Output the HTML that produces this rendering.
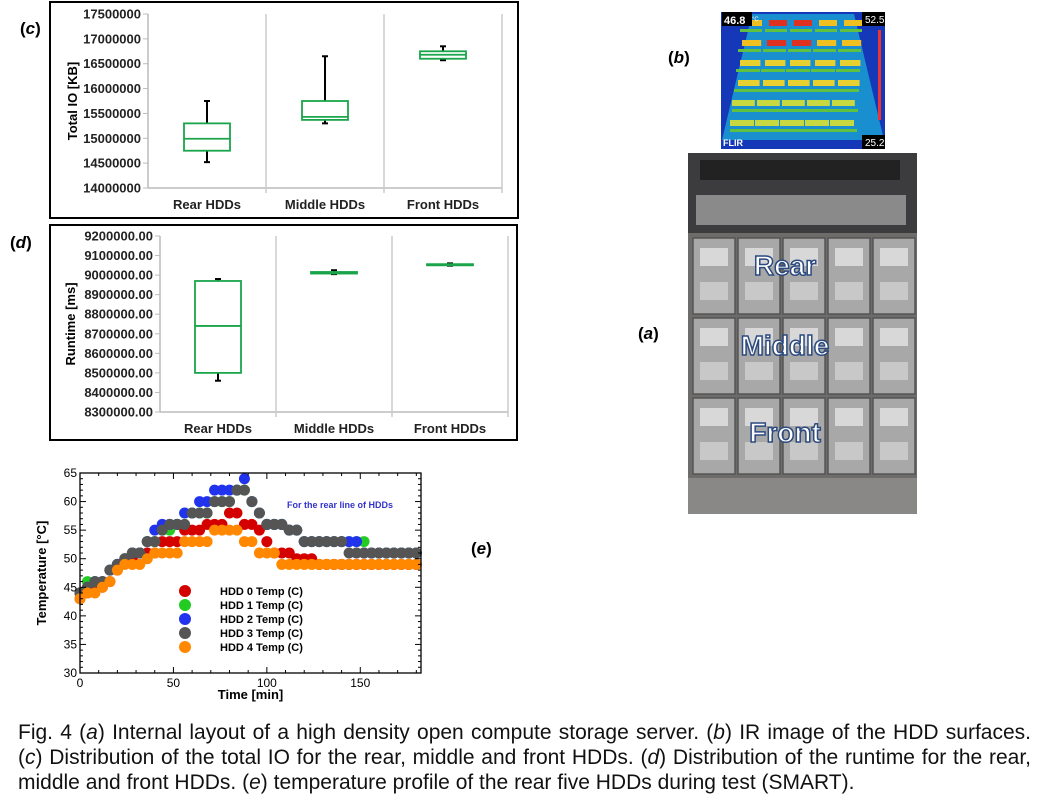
<!DOCTYPE html>
<html><head><meta charset="utf-8"><style>
body{margin:0;background:#fff;width:1048px;height:808px;overflow:hidden;font-family:"Liberation Sans",Arial,sans-serif}
svg{position:absolute;left:0;top:0}
#cap{position:absolute;left:18px;top:720px;width:1013px;font-size:21px;line-height:25px;color:#111}
#cap div{text-align:justify;text-align-last:justify;white-space:nowrap}
#cap div.last{text-align-last:left}
</style></head><body>
<svg id="fig" width="1048" height="808" xmlns="http://www.w3.org/2000/svg" font-family="Liberation Sans, Arial, sans-serif">
<g id="gc"></g>
<g id="gd"></g>
<g id="ge"></g>
<g id="photos"></g>
<text x="20" y="34" font-size="17" font-weight="bold">(<tspan font-style="italic">c</tspan>)</text>
<text x="10" y="248" font-size="17" font-weight="bold">(<tspan font-style="italic">d</tspan>)</text>
<text x="668" y="63" font-size="17" font-weight="bold">(<tspan font-style="italic">b</tspan>)</text>
<text x="638" y="339" font-size="17" font-weight="bold">(<tspan font-style="italic">a</tspan>)</text>
<text x="471" y="554" font-size="17" font-weight="bold">(<tspan font-style="italic">e</tspan>)</text>
</svg>
<div id="cap">
<div>Fig. 4 (<i>a</i>) Internal layout of a high density open compute storage server. (<i>b</i>) IR image of the HDD surfaces.</div>
<div>(<i>c</i>) Distribution of the total IO for the rear, middle and front HDDs. (<i>d</i>) Distribution of the runtime for the rear,</div>
<div class="last">middle and front HDDs. (<i>e</i>) temperature profile of the rear five HDDs during test (SMART).</div>
</div>
<script>
const NS='http://www.w3.org/2000/svg';
function mk(p,t,a,txt){const e=document.createElementNS(NS,t);for(const k in a)e.setAttribute(k,a[k]);if(txt!==undefined)e.textContent=txt;p.appendChild(e);return e;}

// ---- chart c data ----
const cCats=['Rear HDDs','Middle HDDs','Front HDDs'];
const cMin=[14520000,15300000,16570000];
const cQ1=[14750000,15370000,16600000];
const cMed=[14990000,15430000,16680000];
const cQ3=[15300000,15750000,16750000];
const cMax=[15750000,16650000,16850000];
const cTicks=[14000000,14500000,15000000,15500000,16000000,16500000,17000000,17500000];
// ---- chart d data ----
const dCats=['Rear HDDs','Middle HDDs','Front HDDs'];
const dMin=[8460000,9005000,9048000];
const dQ1=[8500000,9008000,9050000];
const dMed=[8740000,9012000,9053000];
const dQ3=[8970000,9016000,9056000];
const dMax=[8980000,9025000,9060000];
const dTicks=[8300000,8400000,8500000,8600000,8700000,8800000,8900000,9000000,9100000,9200000];
// ---- chart e data ----
const eTimes=[0,4,8,12,16,20,24,28,32,36,40,44,48,52,56,60,64,68,72,76,80,84,88,92,96,100,104,108,112,116,120,124,128,132,136,140,144,148,152,156,160,164,168,172,176,180];
const hdd0=[43,44,45,45,46,48,50,50,51,51,51,53,53,53,55,55,55,56,56,56,58,58,56,56,55,53,51,51,51,50,50,50,49,49,49,49,49,49,49,49,49,49,49,49,49,49];
const hdd1=[44,46,46,46,48,49,50,51,51,53,53,55,55,56,58,58,58,58,60,60,60,62,62,60,58,56,56,56,55,55,53,53,53,53,53,53,53,53,53,51,51,51,51,51,51,51];
const hdd2=[44,45,46,46,48,49,50,51,51,53,55,56,56,56,58,58,60,60,62,62,62,62,64,60,58,56,56,56,55,55,53,53,53,53,53,53,53,53,51,51,51,51,51,51,51,51];
const hdd3=[44,45,46,46,48,49,50,51,51,53,53,55,56,56,56,58,58,58,60,60,60,62,62,60,58,56,56,56,55,55,53,53,53,53,53,53,51,51,51,51,51,51,51,51,51,51];
const hdd4=[43,44,44,45,46,48,49,49,49,50,51,51,51,51,53,53,53,53,55,55,55,55,53,53,51,51,51,49,49,49,49,49,49,49,49,49,49,49,49,49,49,49,49,49,49,49];
const eSeriesNames=['HDD 0 Temp (C)','HDD 1 Temp (C)','HDD 2 Temp (C)','HDD 3 Temp (C)','HDD 4 Temp (C)'];
const eColors=['#d40000','#22cc22','#2233ee','#555555','#ff8800'];
const eYTicks=[30,35,40,45,50,55,60,65];
const eXTicks=[0,50,100,150];

function boxChart(g,o){
  mk(g,'rect',{x:o.fx,y:o.fy,width:o.fw,height:o.fh,fill:'none',stroke:'#000','stroke-width':2});
  const y=v=>o.y0+(v-o.vmin)/(o.vmax-o.vmin)*(o.y1-o.y0);
  const cw=(o.x1-o.x0)/3;
  const x=i=>o.x0+cw*(i+0.5);
  mk(g,'line',{x1:o.x0,y1:o.y0,x2:o.x1,y2:o.y0,stroke:'#bbb','stroke-width':1.5});
  mk(g,'line',{x1:o.x0,y1:o.y0,x2:o.x0,y2:o.y1,stroke:'#bbb','stroke-width':1.5});
  for(let i=1;i<=3;i++){const l=mk(g,'line',{x1:o.x0+cw*i,y1:o.y0+5,x2:o.x0+cw*i,y2:o.y1,stroke:'#ccc','stroke-width':1.5});}
  o.ticks.forEach(t=>{mk(g,'line',{x1:o.x0-5,x2:o.x0,y1:y(t),y2:y(t),stroke:'#bbb'});
    const tx=mk(g,'text',{x:o.x0-7,y:y(t)+4.5,'text-anchor':'end','font-size':13,'font-weight':'bold',fill:'#222'},o.fmt(t));});
  const tt=mk(g,'text',{transform:`translate(${o.tx},${(o.y0+o.y1)/2}) rotate(-90)`,'text-anchor':'middle','font-size':13,'font-weight':'bold'},o.title);
  
  o.cats.forEach((c,i)=>{
    const cl=mk(g,'text',{x:x(i),y:o.y0+21,'text-anchor':'middle','font-size':13,'font-weight':'bold',fill:'#222'},c);
    
    const bg=mk(g,'g',{});
    const cx=x(i),hw=o.bw/2;
    mk(bg,'line',{x1:cx,x2:cx,y1:y(o.max[i]),y2:y(o.q3[i]),stroke:'#000','stroke-width':2});
    mk(bg,'line',{x1:cx,x2:cx,y1:y(o.q1[i]),y2:y(o.min[i]),stroke:'#000','stroke-width':2});
    mk(bg,'line',{x1:cx-3,x2:cx+3,y1:y(o.max[i]),y2:y(o.max[i]),stroke:'#000','stroke-width':2});
    mk(bg,'line',{x1:cx-3,x2:cx+3,y1:y(o.min[i]),y2:y(o.min[i]),stroke:'#000','stroke-width':2});
    const top=y(o.q3[i]),bot=y(o.q1[i]);
    mk(bg,'rect',{x:cx-hw,y:top,width:o.bw,height:Math.max(bot-top,1),fill:'#fff',stroke:'#1aa54a','stroke-width':1.8});
    mk(bg,'line',{x1:cx-hw,x2:cx+hw,y1:y(o.med[i]),y2:y(o.med[i]),stroke:'#1aa54a','stroke-width':1.8});
  });
}
boxChart(document.getElementById('gc'),{fx:50,fy:2,fw:468,fh:216,x0:148,x1:502,y0:188,y1:14,vmin:14000000,vmax:17500000,
  ticks:cTicks,fmt:t=>String(t),title:'Total IO [KB]',tx:77,cats:cCats,min:cMin,q1:cQ1,med:cMed,q3:cQ3,max:cMax,bw:46});
boxChart(document.getElementById('gd'),{fx:50,fy:225,fw:467,fh:215,x0:160,x1:508,y0:412,y1:236,vmin:8300000,vmax:9200000,
  ticks:dTicks,fmt:t=>t.toFixed(2),title:'Runtime [ms]',tx:75,cats:dCats,min:dMin,q1:dQ1,med:dMed,q3:dQ3,max:dMax,bw:46});

// ---- chart e ----
(function(){
  const g=document.getElementById('ge');
  const X0=80,X1=421,Y0=673,Y1=473,xmax=182.5;
  const x=v=>X0+v/xmax*(X1-X0), y=v=>Y0-(v-30)/35*(Y0-Y1);
  const series=[hdd0,hdd1,hdd2,hdd3,hdd4];
  series.forEach((s,k)=>{
    const sg=mk(g,'g',{fill:eColors[k]});
    s.forEach((v,i)=>{const c=mk(sg,'circle',{cx:x(eTimes[i]),cy:y(v),r:5.5});});
  });
  mk(g,'rect',{x:X0,y:Y1,width:X1-X0,height:Y0-Y1,fill:'none',stroke:'#000','stroke-width':1.3});
  for(let t=0;t<=180;t+=10){const L=t%50===0?6:3;mk(g,'line',{x1:x(t),x2:x(t),y1:Y0,y2:Y0-L,stroke:'#000'});mk(g,'line',{x1:x(t),x2:x(t),y1:Y1,y2:Y1+L,stroke:'#000'});}
  for(let t=30;t<=65;t+=1){const L=t%5===0?6:3;mk(g,'line',{x1:X0,x2:X0+L,y1:y(t),y2:y(t),stroke:'#000'});mk(g,'line',{x1:X1,x2:X1-L,y1:y(t),y2:y(t),stroke:'#000'});}
  eYTicks.forEach(t=>{const tx=mk(g,'text',{x:X0-3,y:y(t)+4,'text-anchor':'end','font-size':12},t);});
  eXTicks.forEach(t=>{const tx=mk(g,'text',{x:x(t),y:Y0+14,'text-anchor':'middle','font-size':12},t);});
  const xt=mk(g,'text',{x:(X0+X1)/2,y:699,'text-anchor':'middle','font-size':13,'font-weight':'bold'},'Time [min]');
  const yt=mk(g,'text',{transform:`translate(46,${(Y0+Y1)/2}) rotate(-90)`,'text-anchor':'middle','font-size':13,'font-weight':'bold'},'Temperature [°C]');
  const an=mk(g,'text',{x:287,y:508,'font-size':9,'font-weight':'bold',fill:'#3333cc'},'For the rear line of HDDs');
  eSeriesNames.forEach((n,k)=>{
    const lg=mk(g,'g',{});
    mk(lg,'circle',{cx:185,cy:591+k*14,r:6,fill:eColors[k]});
    mk(lg,'text',{x:220,y:595+k*14,'font-size':11,'font-weight':'bold'},n);
  });
})();

// ---- photos ----
(function(){
  const g=document.getElementById('photos');
  const ir=mk(g,'g',{});
  mk(ir,'rect',{x:721,y:12,width:164,height:137,fill:'#1438b8'});
  mk(ir,'polygon',{points:'752,14 854,14 884,140 722,140',fill:'#1a8fd0'});
  for(let r=0;r<6;r++)for(let c=0;c<5;c++){
    const col=r<2?(c==1||c==2?'#e03020':'#f0c020'):r<4?'#e8d030':'#c8d840';
    mk(ir,'rect',{x:744+c*25-r*2+ (r>3?-4:0),y:20+r*20,width:18+r*1.2,height:6,fill:col});
    mk(ir,'rect',{x:740+c*25-r*2,y:29+r*20,width:22+r,height:3,fill:'#60c040'});
  }
  mk(ir,'rect',{x:722,y:12,width:30,height:14,fill:'#000'});
  mk(ir,'text',{x:724,y:24,'font-size':11,'font-weight':'bold',fill:'#fff'},'46.8');
  mk(ir,'text',{x:752,y:21,'font-size':6,fill:'#fff'},'°C');
  mk(ir,'rect',{x:862,y:12,width:23,height:14,fill:'#000'});
  mk(ir,'text',{x:865,y:23,'font-size':10,fill:'#fff'},'52.5');
  mk(ir,'rect',{x:878,y:30,width:3,height:90,fill:'#e33'});
  mk(ir,'rect',{x:862,y:135,width:23,height:14,fill:'#000'});
  mk(ir,'text',{x:865,y:146,'font-size':10,fill:'#fff'},'25.2');
  mk(ir,'text',{x:723,y:146,'font-size':9,'font-weight':'bold',fill:'#fff'},'FLIR');

  const ph=mk(g,'g',{});
  mk(ph,'rect',{x:688,y:153,width:229,height:361,fill:'#6e6c6a'});
  mk(ph,'rect',{x:688,y:153,width:229,height:80,fill:'#3c3c3e'});
  mk(ph,'rect',{x:700,y:160,width:200,height:20,fill:'#222'});
  mk(ph,'rect',{x:696,y:195,width:210,height:30,fill:'#8a8a8a'});
  for(let r=0;r<3;r++)for(let c=0;c<5;c++){
    mk(ph,'rect',{x:693+c*45,y:238+r*80,width:42,height:76,fill:'#a9a8a8',stroke:'#555','stroke-width':1.5});
    mk(ph,'rect',{x:700+c*45,y:248+r*80,width:28,height:18,fill:'#d8d8d8'});
    mk(ph,'rect',{x:700+c*45,y:282+r*80,width:28,height:18,fill:'#c8c8c8'});
  }
  mk(ph,'rect',{x:688,y:478,width:229,height:36,fill:'#8a8886'});
  [['Rear',266],['Middle',346],['Front',433]].forEach(([t,yy])=>{
    mk(ph,'text',{x:785,y:yy+9,'text-anchor':'middle','font-size':28,'font-weight':'bold',fill:'#fff',stroke:'#2b4a80','stroke-width':1.5},t);
  });
})();
</script>
</body></html>
